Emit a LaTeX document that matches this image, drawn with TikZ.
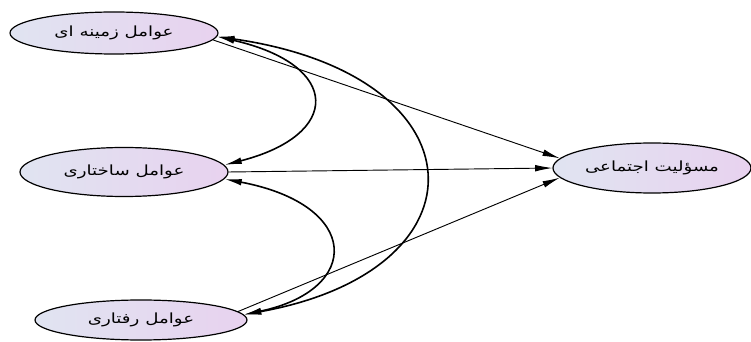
\documentclass[tikz,border=0pt]{standalone}
\usepackage{fontspec}
\usepackage{graphicx}
\newfontfamily\arabicfont[Script=Arabic]{DejaVu Sans}
\TeXXeTstate=1
\usetikzlibrary{shapes.geometric,arrows.meta}
\definecolor{ellL}{HTML}{E0E4F1}
\definecolor{ellR}{HTML}{E8D2EF}
\newcommand{\farsitext}[1]{\scalebox{1.3}[1]{\beginR #1\endR}}
\begin{document}
\begin{tikzpicture}[x=0.75pt,y=-0.75pt,
  factor/.style={ellipse, draw=black, line width=0.9pt, left color=ellL, right color=ellR, inner sep=0pt,
    font=\arabicfont\fontsize{10.5}{12}\selectfont},
  straight/.style={line width=0.7pt, -{Latex[length=13pt,width=5pt]}},
  curved/.style={line width=1.2pt, {Latex[length=13pt,width=5pt]}-{Latex[length=13pt,width=5pt]}}]
\useasboundingbox (0,0) rectangle (751,342);
\node[factor, minimum width=156pt, minimum height=31.5pt] (top) at (114,33) {\farsitext{عوامل زمینه ای}};
\node[factor, minimum width=156pt, minimum height=36.75pt] (mid) at (124,172) {\farsitext{عوامل ساختاری}};
\node[factor, minimum width=159pt, minimum height=30pt] (bot) at (141,320) {\farsitext{عوامل رفتاری}};
\node[factor, minimum width=148.5pt, minimum height=37.5pt] (res) at (652,168) {\farsitext{مسؤلیت اجتماعی}};
\draw[straight] (top.-4) -- (res.174);
\draw[straight] (mid.0) -- (res.180);
\draw[straight] (bot.5) -- (res.186);
\draw[curved] (top.-2) .. controls (342,65) and (342,135) .. (mid.4);
\draw[curved] (mid.-4) .. controls (362,205) and (362,290) .. (bot.3);
\draw[curved] (top.-2) .. controls (485,75) and (492,270) .. (bot.3);
\end{tikzpicture}
\end{document}
